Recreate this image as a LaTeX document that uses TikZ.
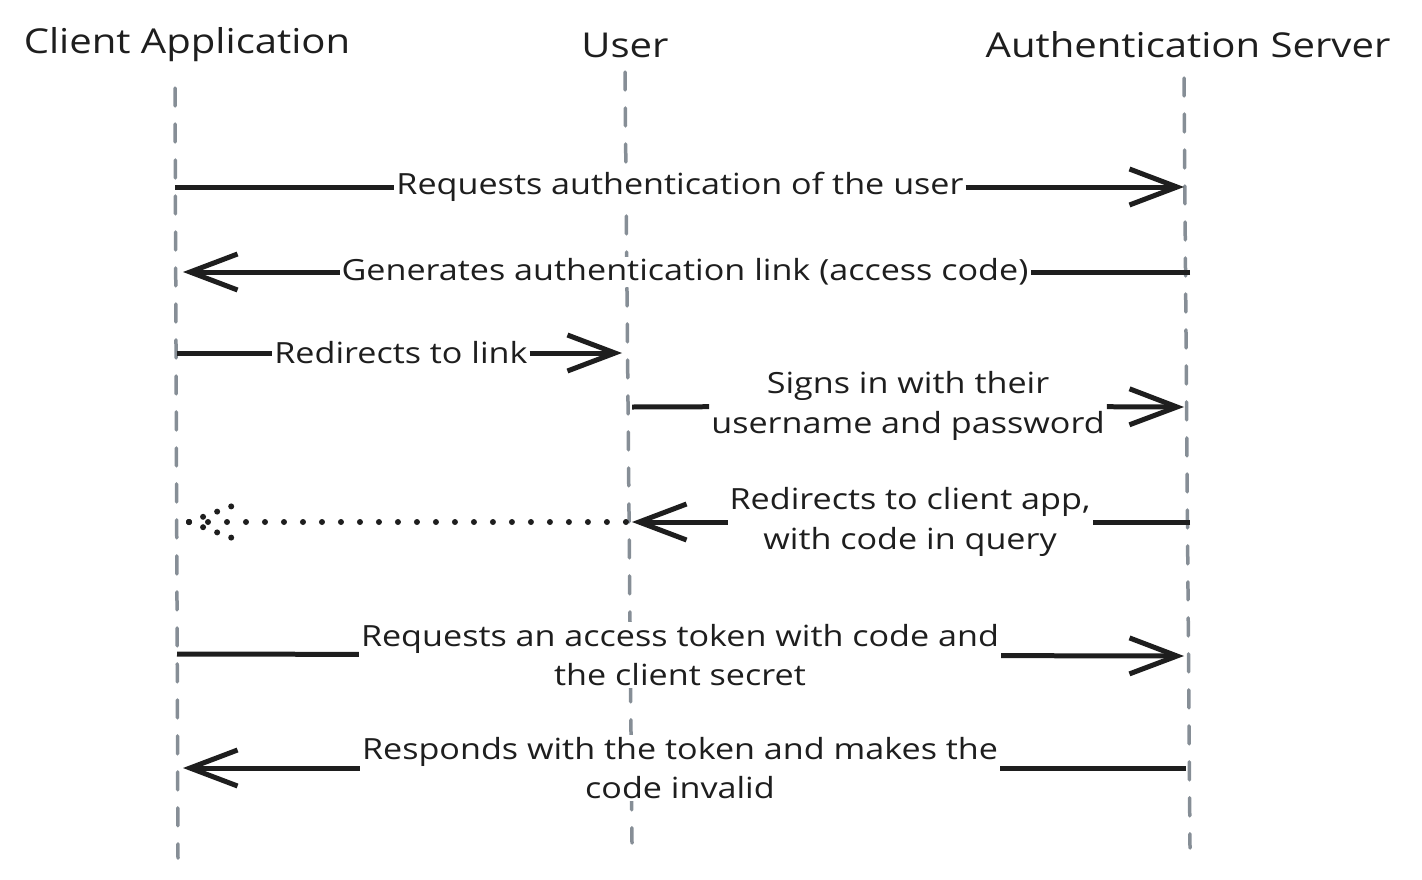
\documentclass[tikz,border=0pt]{standalone}
\usepackage{fontspec}
\setmainfont{Open Sans}[FakeStretch=1.17]
\usetikzlibrary{arrows.meta}

\definecolor{ink}{HTML}{1E1E1E}
\definecolor{lifegray}{HTML}{868E96}

\tikzset{
  head/.style={font=\fontsize{19.5}{23}\selectfont, text=ink},
  lbl/.style={font=\fontsize{16.6}{22.7}\selectfont, text=ink, fill=white, inner sep=1pt, align=center},
  lifeline/.style={draw=lifegray, line width=0.07cm, line cap=round, dash pattern=on 0.36cm off 0.36cm},
  wire/.style={draw=ink, line width=0.1cm},
  msg/.style={wire, -{Straight Barb[length=0.95cm, width=0.72cm]}},
  dotline/.style={draw=ink, line width=0.12cm, line cap=round, dash pattern=on 0pt off 0.38cm},
  dotbarb/.style={dotline, dash pattern=on 0pt off 0.3cm}
}

\begin{document}
\begin{tikzpicture}[x=0.02cm, y=-0.02cm]
\useasboundingbox (0,0) rectangle (1422,879);

\node[head] (client) at (187, 45) {Client Application};
\node[head] (user) at (625, 45) {User};
\node[head] (auth) at (1188, 45) {Authentication Server};

% Draw lifelines
\coordinate (ctop) at (175, 88);
\coordinate (cbot) at (178, 858);
\coordinate (utop) at (625, 72);
\coordinate (ubot) at (632, 843);
\coordinate (atop) at (1184, 78);
\coordinate (abot) at (1190, 848);

\draw[lifeline] (ctop) -- (cbot);
\draw[lifeline] (utop) -- (ubot);
\draw[lifeline] (atop) -- (abot);

% points on the lifelines
\coordinate (c1) at (175, 187);
\coordinate (a1) at (1184, 187);
\coordinate (a2) at (1190, 272);
\coordinate (c2) at (183, 272);
\coordinate (c3) at (177, 353);
\coordinate (u3) at (622, 353);
\coordinate (u4) at (632, 407);
\coordinate (a4) at (1184, 407);
\coordinate (a5) at (1190, 522);
\coordinate (u5) at (632, 522);
\coordinate (c5) at (189, 522);
\coordinate (c6) at (177, 654);
\coordinate (a6) at (1184, 656);
\coordinate (a7) at (1186, 768);
\coordinate (c7) at (183, 768);

% messages
\node[lbl] (m1) at (680, 187) {Requests authentication of the user};
\draw[wire] (c1) -- (m1);
\draw[msg] (m1) -- (a1);

\node[lbl] (m2) at (685, 272) {Generates authentication link (access code)};
\draw[wire] (a2) -- (m2);
\draw[msg] (m2) -- (c2);

\node[lbl] (m3) at (401, 353) {Redirects to link};
\draw[wire] (c3) -- (m3);
\draw[msg] (m3) -- (u3);

\node[lbl] (m4) at (908, 406) {Signs in with their\\username and password};
\draw[wire] (u4) -- (m4);
\draw[msg] (m4) -- (a4);

\node[lbl] (m5) at (910, 522) {Redirects to client app,\\with code in query};
\draw[wire] (a5) -- (m5);
\draw[msg] (m5) -- (u5);

% dotted return to the client
\draw[dotline] (c5) -- (u5);
\draw[dotbarb] (c5) -- ++(46,-17);
\draw[dotbarb] (c5) -- ++(46,17);

\node[lbl] (m6) at (680, 655) {Requests an access token with code and\\the client secret};
\draw[wire] (c6) -- (m6);
\draw[msg] (m6) -- (a6);

\node[lbl] (m7) at (680, 768) {Responds with the token and makes the\\code invalid};
\draw[wire] (a7) -- (m7);
\draw[msg] (m7) -- (c7);

\end{tikzpicture}
\end{document}
